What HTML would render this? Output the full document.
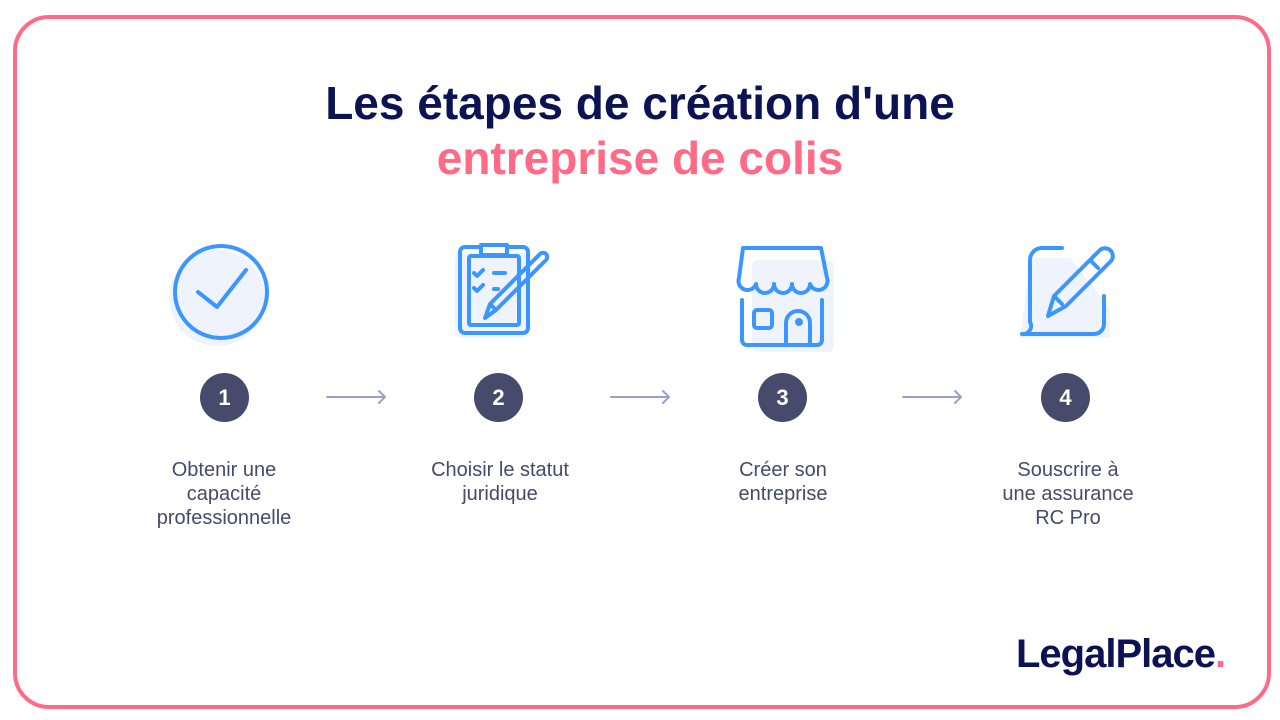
<!DOCTYPE html>
<html><head><meta charset="utf-8"><style>
body{margin:0;width:1280px;height:720px;background:#fff;font-family:"Liberation Sans",sans-serif;position:relative;overflow:hidden}
.frame{position:absolute;left:13px;top:15px;width:1250px;height:686px;border:4px solid #ff6b86;border-radius:36px}
.title{position:absolute;left:0;width:1280px;text-align:center;font-weight:bold;font-size:46px;color:#0b1354;letter-spacing:0px}
.num{position:absolute;width:49px;height:49px;border-radius:50%;background:#464a6b;color:#fff;font-weight:bold;font-size:22px;text-align:center;line-height:49px}
.lbl{position:absolute;width:240px;text-align:center;font-size:20px;line-height:24px;color:#464a6b}
.logo{position:absolute;left:1016px;top:632px;font-weight:bold;font-size:40px;color:#0b1354;letter-spacing:-1px}
</style></head><body>
<div class="frame"></div>
<div class="title" style="top:76px">Les étapes de création d'une</div>
<div class="title" style="top:131px;color:#ff6b86">entreprise de colis</div>

<svg width="1280" height="720" style="position:absolute;left:0;top:0" fill="none" stroke="#3b96ff" stroke-width="4" stroke-linecap="round" stroke-linejoin="round">
<circle cx="217" cy="298" r="48" fill="#eff3fe" stroke="none"/>
<circle cx="221" cy="292" r="46"/>
<path d="M198 292 L217 307 L246 270"/>
<rect x="455" y="253" width="72" height="85" rx="6" fill="#eff3fe" stroke="none"/>
<rect x="460" y="247" width="68" height="86" rx="5"/>
<rect x="469" y="256" width="50" height="69" rx="2"/>
<rect x="481" y="245" width="26" height="10" fill="#fff"/>
<path d="M474 273 l3 3 6-6 M494 273 h11 M474 288 l3 3 6-6 M494 289 h4"/>
<path d="M485 318 l5-14 50-50 a4 4 0 0 1 6 6 l-50 50 z M490 304 l6 6"/>
<rect x="752" y="260" width="82" height="92" rx="6" fill="#eff3fe" stroke="none"/>
<path d="M743 248 h78 l6 30 a9 9 0 0 1 -17 6 a9 9 0 0 1 -18 0 a9 9 0 0 1 -18 0 a9 9 0 0 1 -18 0 a9 9 0 0 1 -17 -6 z"/>
<path d="M742 300 v40 a5 5 0 0 0 5 5 h70 a5 5 0 0 0 5 -5 v-40"/>
<rect x="754" y="310" width="18" height="18" rx="3"/>
<path d="M786 345 v-22 a12 12 0 0 1 24 0 v22"/>
<circle cx="799" cy="322" r="2" fill="#3b96ff"/>
<path d="M1030 258 l40 0 40 50 0 30 -90 0 z" fill="#eff3fe" stroke="none"/>
<path d="M1062 248 h-20 a12 12 0 0 0 -12 12 v62 a8 8 0 0 1 -8 12 h72 a10 10 0 0 0 10 -10 v-28"/>
<path d="M1048 316 l6 -20 45 -45 a6 6 0 0 1 12 10 l-45 45 z M1054 296 l8 8 M1090 260 l8 8"/>
<g stroke="#9a9fcf" stroke-width="2">
<path d="M327 397 h58 M379 391 l6 6 -6 6"/>
<path d="M611 397 h58 M663 391 l6 6 -6 6"/>
<path d="M903 397 h58 M955 391 l6 6 -6 6"/>
</g>
</svg>

<div class="num" style="left:200px;top:373px">1</div>
<div class="num" style="left:474px;top:373px">2</div>
<div class="num" style="left:758px;top:373px">3</div>
<div class="num" style="left:1041px;top:373px">4</div>

<div class="lbl" style="left:104px;top:458px">Obtenir une<br>capacité<br>professionnelle</div>
<div class="lbl" style="left:380px;top:458px">Choisir le statut<br>juridique</div>
<div class="lbl" style="left:663px;top:458px">Créer son<br>entreprise</div>
<div class="lbl" style="left:948px;top:458px">Souscrire à<br>une assurance<br>RC Pro</div>

<div class="logo">LegalPlace<span style="color:#ff6b86">.</span></div>
</body></html>
